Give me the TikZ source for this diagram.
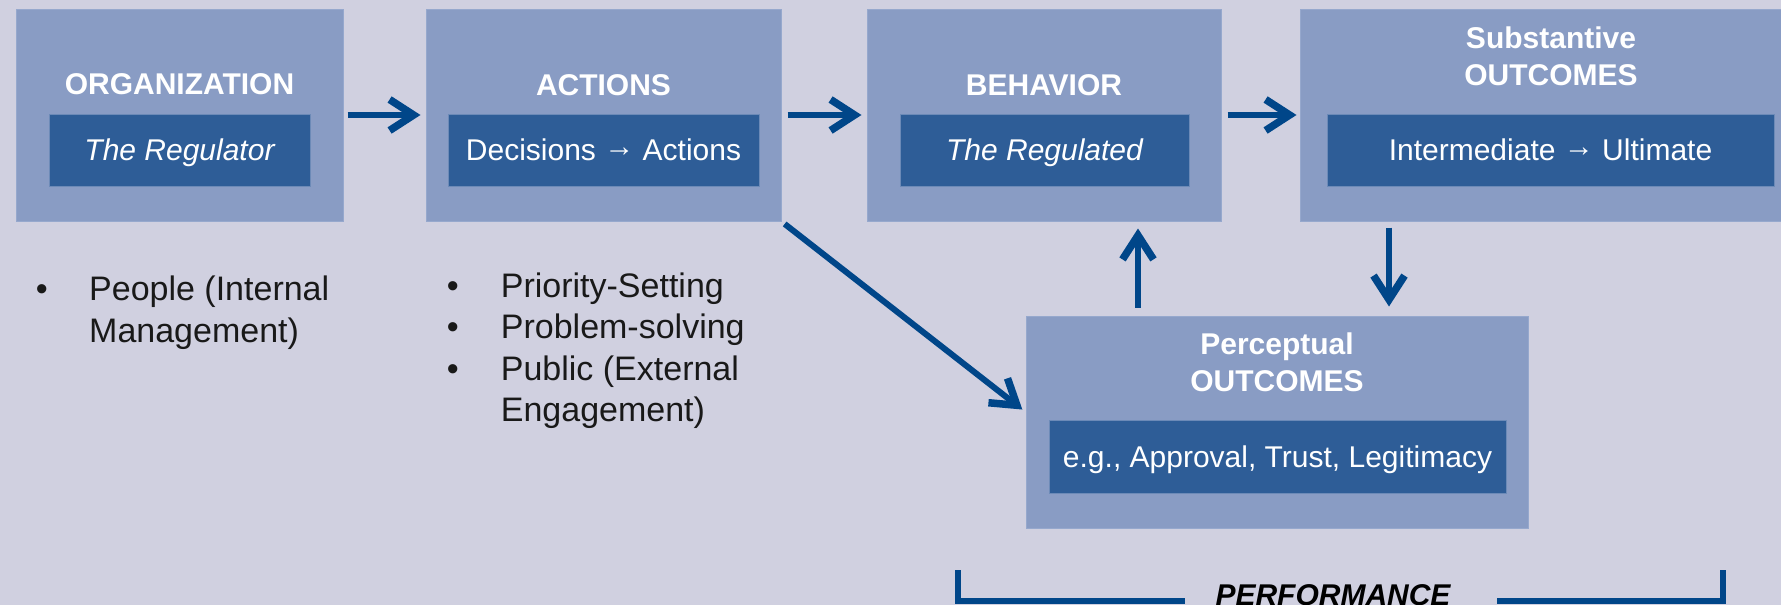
\documentclass[tikz,border=0pt]{standalone}
\usepackage{fontspec}
\setmainfont{Liberation Sans}
\usetikzlibrary{arrows.meta,positioning,calc}

\definecolor{bgLavender}{RGB}{208,208,224}
\definecolor{boxLight}{RGB}{137,156,196}
\definecolor{boxEdge}{RGB}{150,168,205}
\definecolor{boxDark}{RGB}{46,93,151}
\definecolor{arrowBlue}{RGB}{0,70,137}

\newcommand{\thento}{\raisebox{4pt}{→}}

\tikzset{
    outerbox/.style={fill=boxLight, draw=boxEdge, line width=1pt, inner sep=0pt, minimum height=212pt},
    innerbox/.style={fill=boxDark, draw=boxEdge!60!boxDark, line width=1pt, inner sep=0pt,
        text=white, font=\fontsize{30}{34}\selectfont, text height=21.5pt, text depth=0pt},
    boxtitle/.style={text=white, font=\fontsize{30}{37}\selectfont\bfseries, inner sep=0pt, anchor=base, align=center},
    flow/.style={draw=arrowBlue, line width=6pt, -{Straight Barb[length=24pt,width=31pt,line width=0pt 1.25]}},
    bullets/.style={font=\fontsize{34}{41.5}\selectfont, text=black!90, inner sep=0pt, anchor=base west},
    bracket/.style={draw=arrowBlue, line width=6pt},
}

\begin{document}
\begin{tikzpicture}[x=1pt,y=-1pt]
            \useasboundingbox (0,0) rectangle (1781,605);
            \clip (0,0) rectangle (1781,605);
            \fill[bgLavender] (0,0) rectangle (1781,605);

            \node[outerbox, minimum width=327pt] (orgBox) at (179.5,115) {};
            \node[outerbox, minimum width=355pt] (actBox) at (603.5,115) {};
            \node[outerbox, minimum width=354pt] (behBox) at (1044,115) {};
            \node[outerbox, minimum width=502pt] (subBox) at (1551,115) {};
            \node[outerbox, minimum width=502pt] (percBox) at (1277,422) {};

            \node[boxtitle] (orgTitle) at (179.5,94) {ORGANIZATION};
            \node[boxtitle] (actTitle) at (603.5,95) {ACTIONS};
            \node[boxtitle] (behTitle) at (1044,95) {BEHAVIOR};
            \node[boxtitle] (subTitle) at (1551,85) {Substantive\\OUTCOMES};
            \node[boxtitle] (percTitle) at (1277,391) {Perceptual\\OUTCOMES};

            \node[innerbox, minimum width=261pt, minimum height=72pt] (orgInner) at (179.5,150) {\itshape The Regulator};
            \node[innerbox, minimum width=311pt, minimum height=72pt] (actInner) at (603.5,150) {Decisions \thento{} Actions};
            \node[innerbox, minimum width=289pt, minimum height=72pt] (behInner) at (1044.5,150) {\itshape The Regulated};
            \node[innerbox, minimum width=447pt, minimum height=72pt] (subInner) at (1550.5,150) {Intermediate \thento{} Ultimate};
            \node[innerbox, minimum width=457pt, minimum height=73pt] (percInner) at (1277.5,456.5) {e.g., Approval, Trust, Legitimacy};

            \node[bullets] (orgList) at (35.7,300.5)
                {\begin{tabular}[t]{@{}p{53.3pt}@{}l@{}}\textbullet & People (Internal\\ & Management)\end{tabular}};
            \node[bullets] (actList) at (446.7,297)
                {\begin{tabular}[t]{@{}p{54pt}@{}l@{}}\textbullet & Priority-Setting\\ \textbullet & Problem-solving\\ \textbullet & Public (External\\ & Engagement)\end{tabular}};

            \draw[flow, shorten <=4pt, shorten >=5pt] (orgBox) -- (actBox);
            \draw[flow, shorten <=6pt, shorten >=5pt] (actBox) -- (behBox);
            \draw[flow, shorten <=6pt, shorten >=3pt] (behBox) -- (subBox);
            \draw[flow, shorten <=4pt, shorten >=4pt] (actBox.south east) -- ([yshift=10pt]percBox.west);
            \draw[flow, shorten <=8pt, shorten >=7pt]
                ([xshift=-139pt]percBox.north) -- ([xshift=-139pt]percBox.north |- behBox.south);
            \draw[flow, shorten <=6pt, shorten >=9pt]
                ([xshift=112pt]percBox.north |- subBox.south) -- ([xshift=112pt]percBox.north);

            \node[font=\fontsize{30}{34}\selectfont\bfseries\itshape, inner sep=0pt, anchor=base] (perfLabel) at (1333,605) {PERFORMANCE};
            \draw[bracket]
                (958,570) |- (1185,601)
                (1723,570) |- (1497,601)
            ;
\end{tikzpicture}
\end{document}
